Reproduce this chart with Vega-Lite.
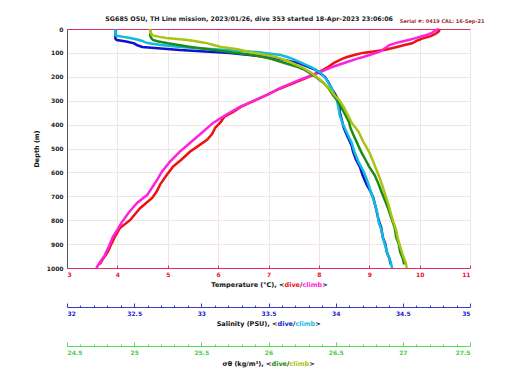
{
  "$schema": "https://vega.github.io/schema/vega-lite/v6.json",
  "width": 403,
  "height": 239,
  "autosize": "none",
  "padding": {"left": 67, "top": 29, "right": 50, "bottom": 122},
  "background": "white",
  "config": {
    "view": {"stroke": null},
    "font": "DejaVu Sans",
    "axis": {"labelFont": "DejaVu Sans", "titleFont": "DejaVu Sans", "labelFontWeight": "bold", "titleFontWeight": "bold", "labelFontSize": 6, "titleFontSize": 6.5, "titleColor": "#111111"}
  },
  "title": {"text": "SG685 OSU, TH Line mission, 2023/01/26, dive 353 started 18-Apr-2023 23:06:06", "fontSize": 6.3, "fontWeight": "bold", "font": "DejaVu Sans", "offset": -4, "anchor": "start", "dx": 72, "color": "#222222"},
  "data": {"values": [
    {"c":"dive","d":0,"T":10.40,"S":32.36,"G":25.12},
    {"c":"dive","d":10,"T":10.38,"S":32.36,"G":25.12},
    {"c":"dive","d":20,"T":10.32,"S":32.36,"G":25.12},
    {"c":"dive","d":30,"T":10.22,"S":32.36,"G":25.12},
    {"c":"dive","d":40,"T":10.05,"S":32.36,"G":25.13},
    {"c":"dive","d":46,"T":9.98,"S":32.37,"G":25.14},
    {"c":"dive","d":52,"T":9.92,"S":32.44,"G":25.18},
    {"c":"dive","d":60,"T":9.85,"S":32.50,"G":25.25},
    {"c":"dive","d":67,"T":9.70,"S":32.52,"G":25.33},
    {"c":"dive","d":75,"T":9.55,"S":32.56,"G":25.42},
    {"c":"dive","d":88,"T":9.30,"S":32.84,"G":25.59},
    {"c":"dive","d":100,"T":8.87,"S":33.21,"G":25.76},
    {"c":"dive","d":109,"T":8.70,"S":33.36,"G":25.88},
    {"c":"dive","d":117,"T":8.56,"S":33.49,"G":25.96},
    {"c":"dive","d":125,"T":8.46,"S":33.58,"G":26.02},
    {"c":"dive","d":142,"T":8.30,"S":33.72,"G":26.12},
    {"c":"dive","d":159,"T":8.18,"S":33.80,"G":26.22},
    {"c":"dive","d":171,"T":8.08,"S":33.85,"G":26.27},
    {"c":"dive","d":200,"T":7.80,"S":33.92,"G":26.35},
    {"c":"dive","d":226,"T":7.50,"S":33.95,"G":26.41},
    {"c":"dive","d":250,"T":7.22,"S":33.97,"G":26.45},
    {"c":"dive","d":276,"T":6.97,"S":34.00,"G":26.48},
    {"c":"dive","d":297,"T":6.75,"S":34.02,"G":26.51},
    {"c":"dive","d":326,"T":6.45,"S":34.03,"G":26.54},
    {"c":"dive","d":347,"T":6.30,"S":34.03,"G":26.56},
    {"c":"dive","d":368,"T":6.12,"S":34.04,"G":26.58},
    {"c":"dive","d":390,"T":6.05,"S":34.05,"G":26.60},
    {"c":"dive","d":414,"T":5.94,"S":34.06,"G":26.61},
    {"c":"dive","d":440,"T":5.88,"S":34.08,"G":26.63},
    {"c":"dive","d":464,"T":5.78,"S":34.10,"G":26.65},
    {"c":"dive","d":490,"T":5.60,"S":34.12,"G":26.67},
    {"c":"dive","d":514,"T":5.44,"S":34.13,"G":26.69},
    {"c":"dive","d":545,"T":5.28,"S":34.15,"G":26.72},
    {"c":"dive","d":577,"T":5.10,"S":34.18,"G":26.75},
    {"c":"dive","d":611,"T":4.98,"S":34.20,"G":26.79},
    {"c":"dive","d":650,"T":4.85,"S":34.23,"G":26.82},
    {"c":"dive","d":680,"T":4.78,"S":34.26,"G":26.84},
    {"c":"dive","d":707,"T":4.69,"S":34.28,"G":26.86},
    {"c":"dive","d":750,"T":4.45,"S":34.30,"G":26.89},
    {"c":"dive","d":800,"T":4.25,"S":34.32,"G":26.92},
    {"c":"dive","d":833,"T":4.05,"S":34.34,"G":26.94},
    {"c":"dive","d":870,"T":3.95,"S":34.35,"G":26.95},
    {"c":"dive","d":900,"T":3.88,"S":34.37,"G":26.97},
    {"c":"dive","d":933,"T":3.81,"S":34.38,"G":26.98},
    {"c":"dive","d":960,"T":3.72,"S":34.40,"G":27.00},
    {"c":"dive","d":985,"T":3.65,"S":34.41,"G":27.01},
    {"c":"climb","d":0,"T":10.38,"S":32.36,"G":25.12},
    {"c":"climb","d":8,"T":10.30,"S":32.36,"G":25.12},
    {"c":"climb","d":15,"T":10.25,"S":32.36,"G":25.12},
    {"c":"climb","d":20,"T":10.20,"S":32.36,"G":25.13},
    {"c":"climb","d":25,"T":10.14,"S":32.36,"G":25.13},
    {"c":"climb","d":28,"T":10.08,"S":32.37,"G":25.15},
    {"c":"climb","d":33,"T":10.00,"S":32.42,"G":25.19},
    {"c":"climb","d":38,"T":9.92,"S":32.47,"G":25.24},
    {"c":"climb","d":45,"T":9.80,"S":32.53,"G":25.38},
    {"c":"climb","d":50,"T":9.70,"S":32.56,"G":25.45},
    {"c":"climb","d":55,"T":9.60,"S":32.58,"G":25.50},
    {"c":"climb","d":59,"T":9.52,"S":32.60,"G":25.54},
    {"c":"climb","d":67,"T":9.40,"S":32.70,"G":25.59},
    {"c":"climb","d":75,"T":9.35,"S":32.84,"G":25.65},
    {"c":"climb","d":85,"T":9.28,"S":33.10,"G":25.77},
    {"c":"climb","d":96,"T":9.20,"S":33.41,"G":25.86},
    {"c":"climb","d":109,"T":9.00,"S":33.59,"G":25.98},
    {"c":"climb","d":117,"T":8.88,"S":33.64,"G":26.05},
    {"c":"climb","d":125,"T":8.75,"S":33.68,"G":26.10},
    {"c":"climb","d":138,"T":8.56,"S":33.73,"G":26.16},
    {"c":"climb","d":160,"T":8.25,"S":33.82,"G":26.25},
    {"c":"climb","d":184,"T":7.98,"S":33.89,"G":26.32},
    {"c":"climb","d":210,"T":7.65,"S":33.93,"G":26.38},
    {"c":"climb","d":247,"T":7.23,"S":33.97,"G":26.45},
    {"c":"climb","d":276,"T":6.97,"S":33.99,"G":26.49},
    {"c":"climb","d":300,"T":6.72,"S":34.01,"G":26.53},
    {"c":"climb","d":326,"T":6.43,"S":34.02,"G":26.56},
    {"c":"climb","d":360,"T":6.15,"S":34.03,"G":26.59},
    {"c":"climb","d":393,"T":5.90,"S":34.05,"G":26.62},
    {"c":"climb","d":430,"T":5.70,"S":34.08,"G":26.67},
    {"c":"climb","d":477,"T":5.44,"S":34.12,"G":26.71},
    {"c":"climb","d":515,"T":5.23,"S":34.14,"G":26.75},
    {"c":"climb","d":556,"T":5.04,"S":34.17,"G":26.78},
    {"c":"climb","d":598,"T":4.88,"S":34.21,"G":26.81},
    {"c":"climb","d":627,"T":4.80,"S":34.23,"G":26.83},
    {"c":"climb","d":660,"T":4.70,"S":34.25,"G":26.85},
    {"c":"climb","d":695,"T":4.59,"S":34.27,"G":26.87},
    {"c":"climb","d":728,"T":4.39,"S":34.29,"G":26.89},
    {"c":"climb","d":770,"T":4.22,"S":34.31,"G":26.91},
    {"c":"climb","d":808,"T":4.09,"S":34.32,"G":26.93},
    {"c":"climb","d":840,"T":4.00,"S":34.34,"G":26.95},
    {"c":"climb","d":870,"T":3.91,"S":34.35,"G":26.96},
    {"c":"climb","d":910,"T":3.83,"S":34.37,"G":26.98},
    {"c":"climb","d":946,"T":3.75,"S":34.39,"G":27.00},
    {"c":"climb","d":975,"T":3.66,"S":34.41,"G":27.02},
    {"c":"climb","d":1000,"T":3.58,"S":34.42,"G":27.03}
  ]},
  "encoding": {
    "y": {"field": "d", "type": "quantitative", "scale": {"domain": [0, 1000], "reverse": true, "nice": false, "zero": false},
      "axis": {"values": [0,100,200,300,400,500,600,700,800,900,1000], "format": "d", "ticks": false, "grid": true, "gridColor": "#f1e3e6", "domainColor": "#555555", "labelColor": "#222222", "labelPadding": 4, "title": "Depth (m)", "titlePadding": 7}}
  },
  "layer": [
    {
      "mark": {"type": "line", "strokeWidth": 2.5},
      "encoding": {
        "x": {"field": "T", "type": "quantitative", "scale": {"domain": [3, 11], "nice": false, "zero": false},
          "axis": {"orient": "bottom", "values": [3,4,5,6,7,8,9,10,11], "grid": true, "gridColor": "#f1e3e6", "domainColor": "#e0305a", "tickColor": "#e0305a", "tickSize": -3, "labelColor": "#e8102a", "labelPadding": 6, "title": "Temperature (°C), <", "titleAlign": "right", "titleX": 217, "titleY": 16, "titleBaseline": "middle"}},
        "color": {"field": "c", "type": "nominal", "scale": {"domain": ["dive", "climb"], "range": ["#ee1111", "#ff22dd"]}, "legend": null},
        "order": {"field": "d", "type": "quantitative"}
      }
    },
    {"mark": {"type": "point", "opacity": 0}, "encoding": {"x": {"field": "T", "type": "quantitative", "axis": {"orient": "bottom", "labels": false, "ticks": false, "domain": false, "grid": false, "title": "dive", "titleColor": "#ee1111", "titleAlign": "left", "titleX": 217, "titleY": 16, "titleBaseline": "middle"}}}},
    {"mark": {"type": "point", "opacity": 0}, "encoding": {"x": {"field": "T", "type": "quantitative", "axis": {"orient": "bottom", "labels": false, "ticks": false, "domain": false, "grid": false, "title": "/", "titleAlign": "left", "titleX": 232.5, "titleY": 16, "titleBaseline": "middle"}}}},
    {"mark": {"type": "point", "opacity": 0}, "encoding": {"x": {"field": "T", "type": "quantitative", "axis": {"orient": "bottom", "labels": false, "ticks": false, "domain": false, "grid": false, "title": "climb", "titleColor": "#ff22dd", "titleAlign": "left", "titleX": 235, "titleY": 16, "titleBaseline": "middle"}}}},
    {"mark": {"type": "point", "opacity": 0}, "encoding": {"x": {"field": "T", "type": "quantitative", "axis": {"orient": "bottom", "labels": false, "ticks": false, "domain": false, "grid": false, "title": ">", "titleAlign": "left", "titleX": 254.7, "titleY": 16, "titleBaseline": "middle"}}}},
    {
      "mark": {"type": "point", "opacity": 0},
      "encoding": {
        "x": {"field": "T", "type": "quantitative", "scale": {"domain": [3, 11], "nice": false, "zero": false},
          "axis": {"orient": "top", "labels": false, "ticks": false, "grid": false, "domainColor": "#e0305a", "title": "Serial #: 0419  CAL: 16-Sep-21", "titleAlign": "right", "titleX": 417, "titleY": -9, "titleBaseline": "middle", "titleColor": "#a03030", "titleFontSize": 5}}
      }
    },
    {
      "mark": {"type": "line", "strokeWidth": 2.5},
      "encoding": {
        "x": {"field": "S", "type": "quantitative", "scale": {"domain": [32, 35], "nice": false, "zero": false},
          "axis": {"orient": "bottom", "offset": 39, "values": [32,32.5,33,33.5,34,34.5,35], "format": "~g", "grid": false, "domainColor": "#3a3ac8", "tickColor": "#3a3ac8", "tickSize": -4, "labelColor": "#2222cc", "labelPadding": 7, "title": "Salinity (PSU), <", "titleAlign": "right", "titleX": 210, "titleY": 16, "titleBaseline": "middle"}},
        "color": {"field": "c", "type": "nominal", "scale": {"domain": ["dive", "climb"], "range": ["#1111cc", "#11bbdd"]}, "legend": null},
        "order": {"field": "d", "type": "quantitative"}
      }
    },
    {
      "mark": {"type": "point", "opacity": 0},
      "encoding": {
        "x": {"field": "S", "type": "quantitative", "scale": {"domain": [32, 35], "nice": false, "zero": false},
          "axis": {"orient": "bottom", "offset": 39, "values": [32.1,32.2,32.3,32.4,32.6,32.7,32.8,32.9,33.1,33.2,33.3,33.4,33.6,33.7,33.8,33.9,34.1,34.2,34.3,34.4,34.6,34.7,34.8,34.9], "labels": false, "domain": false, "grid": false, "tickColor": "#3a3ac8", "tickSize": -2, "title": null}}
      }
    },
    {"mark": {"type": "point", "opacity": 0}, "encoding": {"x": {"field": "S", "type": "quantitative", "axis": {"orient": "bottom", "offset": 39, "labels": false, "ticks": false, "domain": false, "grid": false, "title": "dive", "titleColor": "#2222cc", "titleAlign": "left", "titleX": 210, "titleY": 16, "titleBaseline": "middle"}}}},
    {"mark": {"type": "point", "opacity": 0}, "encoding": {"x": {"field": "S", "type": "quantitative", "axis": {"orient": "bottom", "offset": 39, "labels": false, "ticks": false, "domain": false, "grid": false, "title": "/", "titleAlign": "left", "titleX": 225.5, "titleY": 16, "titleBaseline": "middle"}}}},
    {"mark": {"type": "point", "opacity": 0}, "encoding": {"x": {"field": "S", "type": "quantitative", "axis": {"orient": "bottom", "offset": 39, "labels": false, "ticks": false, "domain": false, "grid": false, "title": "climb", "titleColor": "#22bbdd", "titleAlign": "left", "titleX": 228, "titleY": 16, "titleBaseline": "middle"}}}},
    {"mark": {"type": "point", "opacity": 0}, "encoding": {"x": {"field": "S", "type": "quantitative", "axis": {"orient": "bottom", "offset": 39, "labels": false, "ticks": false, "domain": false, "grid": false, "title": ">", "titleAlign": "left", "titleX": 247.7, "titleY": 16, "titleBaseline": "middle"}}}},
    {
      "mark": {"type": "line", "strokeWidth": 2.5},
      "encoding": {
        "x": {"field": "G", "type": "quantitative", "scale": {"domain": [24.5, 27.5], "nice": false, "zero": false},
          "axis": {"orient": "bottom", "offset": 78, "values": [24.5,25,25.5,26,26.5,27,27.5], "format": "~g", "grid": false, "domainColor": "#55dd55", "tickColor": "#55dd55", "tickSize": -4, "labelColor": "#44cc44", "labelPadding": 7, "title": "σθ (kg/m³), <", "titleAlign": "right", "titleX": 204, "titleY": 17, "titleBaseline": "middle"}},
        "color": {"field": "c", "type": "nominal", "scale": {"domain": ["dive", "climb"], "range": ["#1a8a1a", "#aac411"]}, "legend": null},
        "order": {"field": "d", "type": "quantitative"}
      }
    },
    {
      "mark": {"type": "point", "opacity": 0},
      "encoding": {
        "x": {"field": "G", "type": "quantitative", "scale": {"domain": [24.5, 27.5], "nice": false, "zero": false},
          "axis": {"orient": "bottom", "offset": 78, "values": [24.6,24.7,24.8,24.9,25.1,25.2,25.3,25.4,25.6,25.7,25.8,25.9,26.1,26.2,26.3,26.4,26.6,26.7,26.8,26.9,27.1,27.2,27.3,27.4], "labels": false, "domain": false, "grid": false, "tickColor": "#55dd55", "tickSize": -2, "title": null}}
      }
    },
    {"mark": {"type": "point", "opacity": 0}, "encoding": {"x": {"field": "G", "type": "quantitative", "axis": {"orient": "bottom", "offset": 78, "labels": false, "ticks": false, "domain": false, "grid": false, "title": "dive", "titleColor": "#1a8a1a", "titleAlign": "left", "titleX": 204, "titleY": 17, "titleBaseline": "middle"}}}},
    {"mark": {"type": "point", "opacity": 0}, "encoding": {"x": {"field": "G", "type": "quantitative", "axis": {"orient": "bottom", "offset": 78, "labels": false, "ticks": false, "domain": false, "grid": false, "title": "/", "titleAlign": "left", "titleX": 219.5, "titleY": 17, "titleBaseline": "middle"}}}},
    {"mark": {"type": "point", "opacity": 0}, "encoding": {"x": {"field": "G", "type": "quantitative", "axis": {"orient": "bottom", "offset": 78, "labels": false, "ticks": false, "domain": false, "grid": false, "title": "climb", "titleColor": "#aac411", "titleAlign": "left", "titleX": 222, "titleY": 17, "titleBaseline": "middle"}}}},
    {"mark": {"type": "point", "opacity": 0}, "encoding": {"x": {"field": "G", "type": "quantitative", "axis": {"orient": "bottom", "offset": 78, "labels": false, "ticks": false, "domain": false, "grid": false, "title": ">", "titleAlign": "left", "titleX": 241.7, "titleY": 17, "titleBaseline": "middle"}}}}
  ],
  "resolve": {"scale": {"x": "independent", "color": "independent"}, "axis": {"x": "independent"}}
}
